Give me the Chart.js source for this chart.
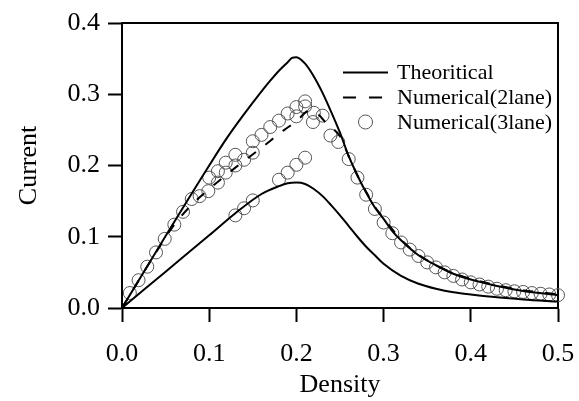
<!DOCTYPE html>
<html>
<head>
<meta charset="utf-8">
<script src="https://cdn.jsdelivr.net/npm/chart.js@4/dist/chart.umd.min.js"></script>
<style>
html,body{margin:0;padding:0;background:#fff;}
#wrap{width:579px;height:401px;}
</style>
</head>
<body>
<div id="wrap"><canvas id="c" width="579" height="401"></canvas></div>
<script>
// ---- Data ----
const xTickLabels = ["0.0","0.1","0.2","0.3","0.4","0.5"];
const yTickLabels = ["0.0","0.1","0.2","0.3","0.4"];
const legendLabels = ["Theoritical","Numerical(2lane)","Numerical(3lane)"];

// Theoretical (upper branch)
const theoryUpperX = [0, 0.05, 0.10, 0.12, 0.14, 0.16, 0.17, 0.18, 0.19, 0.195, 0.20, 0.21, 0.22, 0.23, 0.24, 0.25, 0.26, 0.27, 0.28, 0.29, 0.30, 0.31, 0.32, 0.34, 0.36, 0.38, 0.40, 0.43, 0.46, 0.50];
const theoryUpperY = [0, 0.101, 0.200, 0.238, 0.272, 0.304, 0.319, 0.333, 0.345, 0.351, 0.352, 0.343, 0.325, 0.302, 0.275, 0.246, 0.213, 0.186, 0.162, 0.141, 0.125, 0.108, 0.095, 0.074, 0.060, 0.048, 0.040, 0.031, 0.024, 0.018];

// Theoretical (lower branch)
const theoryLowerX = [0, 0.05, 0.10, 0.13, 0.16, 0.18, 0.19, 0.20, 0.21, 0.22, 0.23, 0.24, 0.25, 0.26, 0.27, 0.28, 0.29, 0.30, 0.32, 0.34, 0.36, 0.38, 0.40, 0.43, 0.46, 0.50];
const theoryLowerY = [0, 0.051, 0.102, 0.133, 0.160, 0.171, 0.175, 0.176, 0.174, 0.167, 0.157, 0.144, 0.130, 0.115, 0.100, 0.086, 0.074, 0.062, 0.045, 0.034, 0.027, 0.022, 0.019, 0.015, 0.012, 0.009];

// Numerical (2 lane) dashed
const lane2X = [0, 0.04, 0.06, 0.08, 0.10, 0.13, 0.16, 0.185, 0.20, 0.215, 0.225, 0.235, 0.25, 0.26, 0.27, 0.28, 0.29, 0.30, 0.32, 0.34, 0.36, 0.38, 0.40, 0.43, 0.46, 0.50];
const lane2Y = [0, 0.080, 0.117, 0.145, 0.167, 0.197, 0.225, 0.249, 0.262, 0.277, 0.272, 0.258, 0.241, 0.213, 0.186, 0.163, 0.142, 0.126, 0.096, 0.075, 0.060, 0.049, 0.041, 0.032, 0.025, 0.019];

// Numerical (3 lane) circles
const lane3X = [0.009, 0.019, 0.029, 0.039, 0.049, 0.060, 0.070, 0.080, 0.089, 0.099, 0.100, 0.110, 0.110, 0.119, 0.119, 0.130, 0.130, 0.140, 0.150, 0.150, 0.160, 0.170, 0.180, 0.190, 0.200, 0.210, 0.200, 0.210, 0.219, 0.220, 0.230, 0.239, 0.248,
  0.130, 0.140, 0.150, 0.180, 0.190, 0.200, 0.210,
  0.26, 0.27, 0.28, 0.29, 0.30, 0.31, 0.32, 0.33, 0.34, 0.35, 0.36, 0.37, 0.38, 0.39, 0.40, 0.41, 0.42, 0.43, 0.44, 0.45, 0.46, 0.47, 0.48, 0.49, 0.50];
const lane3Y = [0.021, 0.039, 0.058, 0.078, 0.097, 0.117, 0.135, 0.153, 0.157, 0.164, 0.183, 0.176, 0.192, 0.190, 0.204, 0.200, 0.215, 0.208, 0.218, 0.234, 0.243, 0.254, 0.263, 0.273, 0.282, 0.290, 0.269, 0.283, 0.261, 0.274, 0.270, 0.242, 0.233,
  0.130, 0.140, 0.151, 0.180, 0.190, 0.201, 0.211,
  0.209, 0.183, 0.159, 0.139, 0.120, 0.105, 0.092, 0.082, 0.073, 0.064, 0.057, 0.050, 0.045, 0.040, 0.036, 0.033, 0.030, 0.027, 0.025, 0.0235, 0.0225, 0.021, 0.020, 0.019, 0.018];

const toXY = (xs, ys) => xs.map((x, i) => ({x: x, y: ys[i]}));

const SERIF = "'Liberation Serif', 'Times New Roman', Times, serif";

const framePlugin = {
  id: 'frame',
  beforeDatasetsDraw(chart) {
    const {ctx, chartArea: a} = chart;
    ctx.save();
    ctx.strokeStyle = '#000';
    ctx.lineWidth = 2;
    ctx.beginPath();
    ctx.moveTo(a.left - 1, a.top);
    ctx.lineTo(a.right, a.top);
    ctx.lineTo(a.right, a.bottom);
    ctx.stroke();
    ctx.restore();
  }
};

const legendPlugin = {
  id: 'customLegend',
  afterDraw(chart) {
    const ctx = chart.ctx;
    const symL = 343, symR = 388, textX = 397;
    const rows = [72.5, 97.5, 122];
    ctx.save();
    ctx.font = '22px ' + SERIF;
    ctx.fillStyle = '#000';
    ctx.textBaseline = 'middle';
    ctx.textAlign = 'left';
    ctx.strokeStyle = '#000';
    ctx.lineWidth = 2;
    ctx.setLineDash([]);
    ctx.beginPath(); ctx.moveTo(symL, rows[0]); ctx.lineTo(symR, rows[0]); ctx.stroke();
    ctx.setLineDash([13, 13]);
    ctx.beginPath(); ctx.moveTo(symL, rows[1]); ctx.lineTo(symR + 1, rows[1]); ctx.stroke();
    ctx.setLineDash([]);
    ctx.strokeStyle = '#555';
    ctx.lineWidth = 1;
    ctx.beginPath(); ctx.arc((symL + symR) / 2, rows[2], 7, 0, Math.PI * 2); ctx.stroke();
    legendLabels.forEach((t, i) => ctx.fillText(t, textX, rows[i] + 1));
    ctx.restore();
  }
};

new Chart(document.getElementById('c'), {
  type: 'scatter',
  data: {
    datasets: [
      {
        label: legendLabels[0],
        type: 'line',
        data: toXY(theoryUpperX, theoryUpperY),
        borderColor: '#000', borderWidth: 2, pointRadius: 0,
        cubicInterpolationMode: 'monotone', fill: false
      },
      {
        label: legendLabels[0] + ' (lower)',
        type: 'line',
        data: toXY(theoryLowerX, theoryLowerY),
        borderColor: '#000', borderWidth: 2, pointRadius: 0,
        cubicInterpolationMode: 'monotone', fill: false
      },
      {
        label: legendLabels[1],
        type: 'line',
        data: toXY(lane2X, lane2Y),
        borderColor: '#000', borderWidth: 2, borderDash: [10, 12], pointRadius: 0,
        cubicInterpolationMode: 'monotone', fill: false
      },
      {
        label: legendLabels[2],
        data: toXY(lane3X, lane3Y),
        showLine: false,
        pointStyle: 'circle', pointRadius: 6.5, pointBorderWidth: 1,
        borderColor: '#555', backgroundColor: 'rgba(0,0,0,0)',
        clip: false
      }
    ]
  },
  options: {
    responsive: false,
    animation: false,
    devicePixelRatio: 1,
    layout: {padding: {top: 23, right: 21, left: 14, bottom: 0}},
    plugins: {legend: {display: false}, tooltip: {enabled: false}},
    scales: {
      x: {
        type: 'linear', min: 0, max: 0.5,
        afterBuildTicks(scale) { scale.ticks = xTickLabels.map(v => ({value: parseFloat(v)})); },
        afterFit(scale) { scale.height = 93; scale.paddingLeft = 0; scale.paddingRight = 0; },
        ticks: {
          callback: (v) => xTickLabels.find(t => Math.abs(parseFloat(t) - v) < 1e-9) || '',
          font: {family: SERIF, size: 26}, color: '#000', padding: 17, maxRotation: 0
        },
        grid: {drawOnChartArea: false, drawTicks: true, tickLength: 14, tickWidth: 2, tickColor: '#000'},
        border: {display: true, color: '#000', width: 2},
        title: {display: true, text: 'Density', font: {family: SERIF, size: 26}, color: '#000', padding: 0}
      },
      y: {
        type: 'linear', min: 0, max: 0.4,
        afterBuildTicks(scale) { scale.ticks = yTickLabels.map(v => ({value: parseFloat(v)})); },
        afterFit(scale) { scale.width = 108; scale.paddingTop = 0; scale.paddingBottom = 0; },
        ticks: {
          callback: (v) => yTickLabels.find(t => Math.abs(parseFloat(t) - v) < 1e-9) || '',
          font: {family: SERIF, size: 26}, color: '#000', padding: 8
        },
        grid: {drawOnChartArea: false, drawTicks: true, tickLength: 14, tickWidth: 2, tickColor: '#000'},
        border: {display: true, color: '#000', width: 2},
        title: {display: true, text: 'Current', font: {family: SERIF, size: 26}, color: '#000', padding: 0}
      }
    }
  },
  plugins: [framePlugin, legendPlugin]
});
</script>
</body>
</html>
